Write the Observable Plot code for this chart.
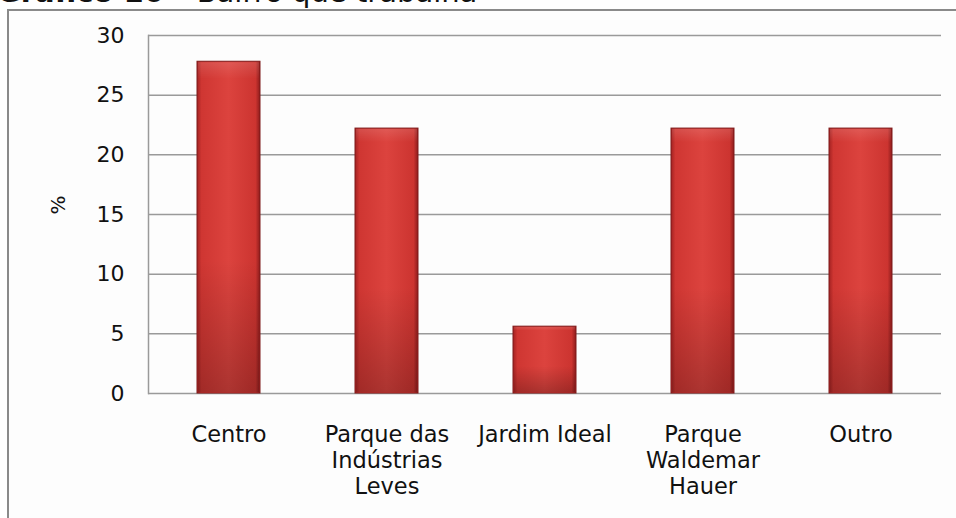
<!DOCTYPE html>
<html>
<head>
<meta charset="utf-8">
<script src="https://cdn.jsdelivr.net/npm/d3@7"></script>
<script src="https://cdn.jsdelivr.net/npm/@observablehq/plot@0.6"></script>
<style>
  html, body { margin: 0; padding: 0; background: #ffffff; }
  #wrap { position: relative; width: 956px; height: 518px; overflow: hidden; background: #ffffff; }
  #title { position: absolute; left: -3px; top: -22px; font-family: "DejaVu Sans", sans-serif; font-size: 29px; line-height: 29px; color: #111; white-space: nowrap; }
  #title b { font-weight: bold; }
  #box { position: absolute; left: 7px; top: 9px; width: 960px; height: 520px; border: 2px solid #8a8a8a; background: #fdfdfd; }
  #chart { position: absolute; left: 0; top: 0; }
</style>
</head>
<body>
<div id="wrap">
  <div id="title"><b>Gráfico 16</b> – Bairro que trabalha</div>
  <div id="box"></div>
  <div id="chart"></div>
</div>
<script>
const categories = ["Centro", "Parque das Indústrias Leves", "Jardim Ideal", "Parque Waldemar Hauer", "Outro"];
const tickLabels = ["Centro", "Parque das\nIndústrias\nLeves", "Jardim Ideal", "Parque\nWaldemar\nHauer", "Outro"];
const values = [27.8, 22.2, 5.6, 22.2, 22.2];
const yTicks = [0, 5, 10, 15, 20, 25, 30];
const yLabel = "%";

const data = categories.map((c, i) => ({cat: c, value: values[i]}));
const labelOf = new Map(categories.map((c, i) => [c, tickLabels[i]]));

const plot = Plot.plot({
  width: 956,
  height: 518,
  marginLeft: 148,
  marginRight: 15,
  marginTop: 35,
  marginBottom: 125,
  style: {background: "transparent", fontFamily: "DejaVu Sans, sans-serif", color: "#111"},
  x: {domain: categories, paddingInner: 0.6, paddingOuter: 0.3, label: null},
  y: {domain: [0, 30], label: null},
  marks: [
    Plot.gridY(yTicks, {stroke: "#9a9a9a", strokeOpacity: 1, strokeWidth: 1.5}),
    Plot.frame({anchor: "left", stroke: "#9a9a9a", strokeWidth: 1.5}),
    Plot.barY(data, {x: "cat", y: "value", fill: "url(#barH)", stroke: "#7e1a1a", strokeWidth: 1}),
    Plot.barY(data, {x: "cat", y: "value", fill: "url(#barV)", insetTop: 1, insetBottom: 1, insetLeft: 1, insetRight: 1}),
    Plot.axisY({ticks: yTicks, tickSize: 0, tickPadding: 24, fontSize: 22, label: null, fill: "#111"}),
    Plot.axisX({tickSize: 0, tickPadding: 30, fontSize: 22.5, lineHeight: 1.16, tickFormat: d => labelOf.get(d), label: null, fill: "#111"}),
    Plot.text([yLabel], {frameAnchor: "left", dx: -90, rotate: -90, fontSize: 20, fill: "#111"})
  ]
});

const svg = d3.select(plot);
const defs = svg.insert("defs", ":first-child");
const gh = defs.append("linearGradient").attr("id", "barH").attr("x1", 0).attr("x2", 1).attr("y1", 0).attr("y2", 0);
[[0, "#a32222"], [0.07, "#cf3632"], [0.5, "#dc433e"], [0.93, "#cc3430"], [1, "#8e1c1c"]].forEach(([o, c]) =>
  gh.append("stop").attr("offset", o).attr("stop-color", c));
const gv = defs.append("linearGradient").attr("id", "barV").attr("x1", 0).attr("x2", 0).attr("y1", 0).attr("y2", 1);
[[0, "#ffffff", 0.12], [0.05, "#ffffff", 0.0], [0.6, "#000000", 0.0], [1, "#000000", 0.22]].forEach(([o, c, a]) =>
  gv.append("stop").attr("offset", o).attr("stop-color", c).attr("stop-opacity", a));

document.getElementById("chart").appendChild(plot);
</script>
</body>
</html>
